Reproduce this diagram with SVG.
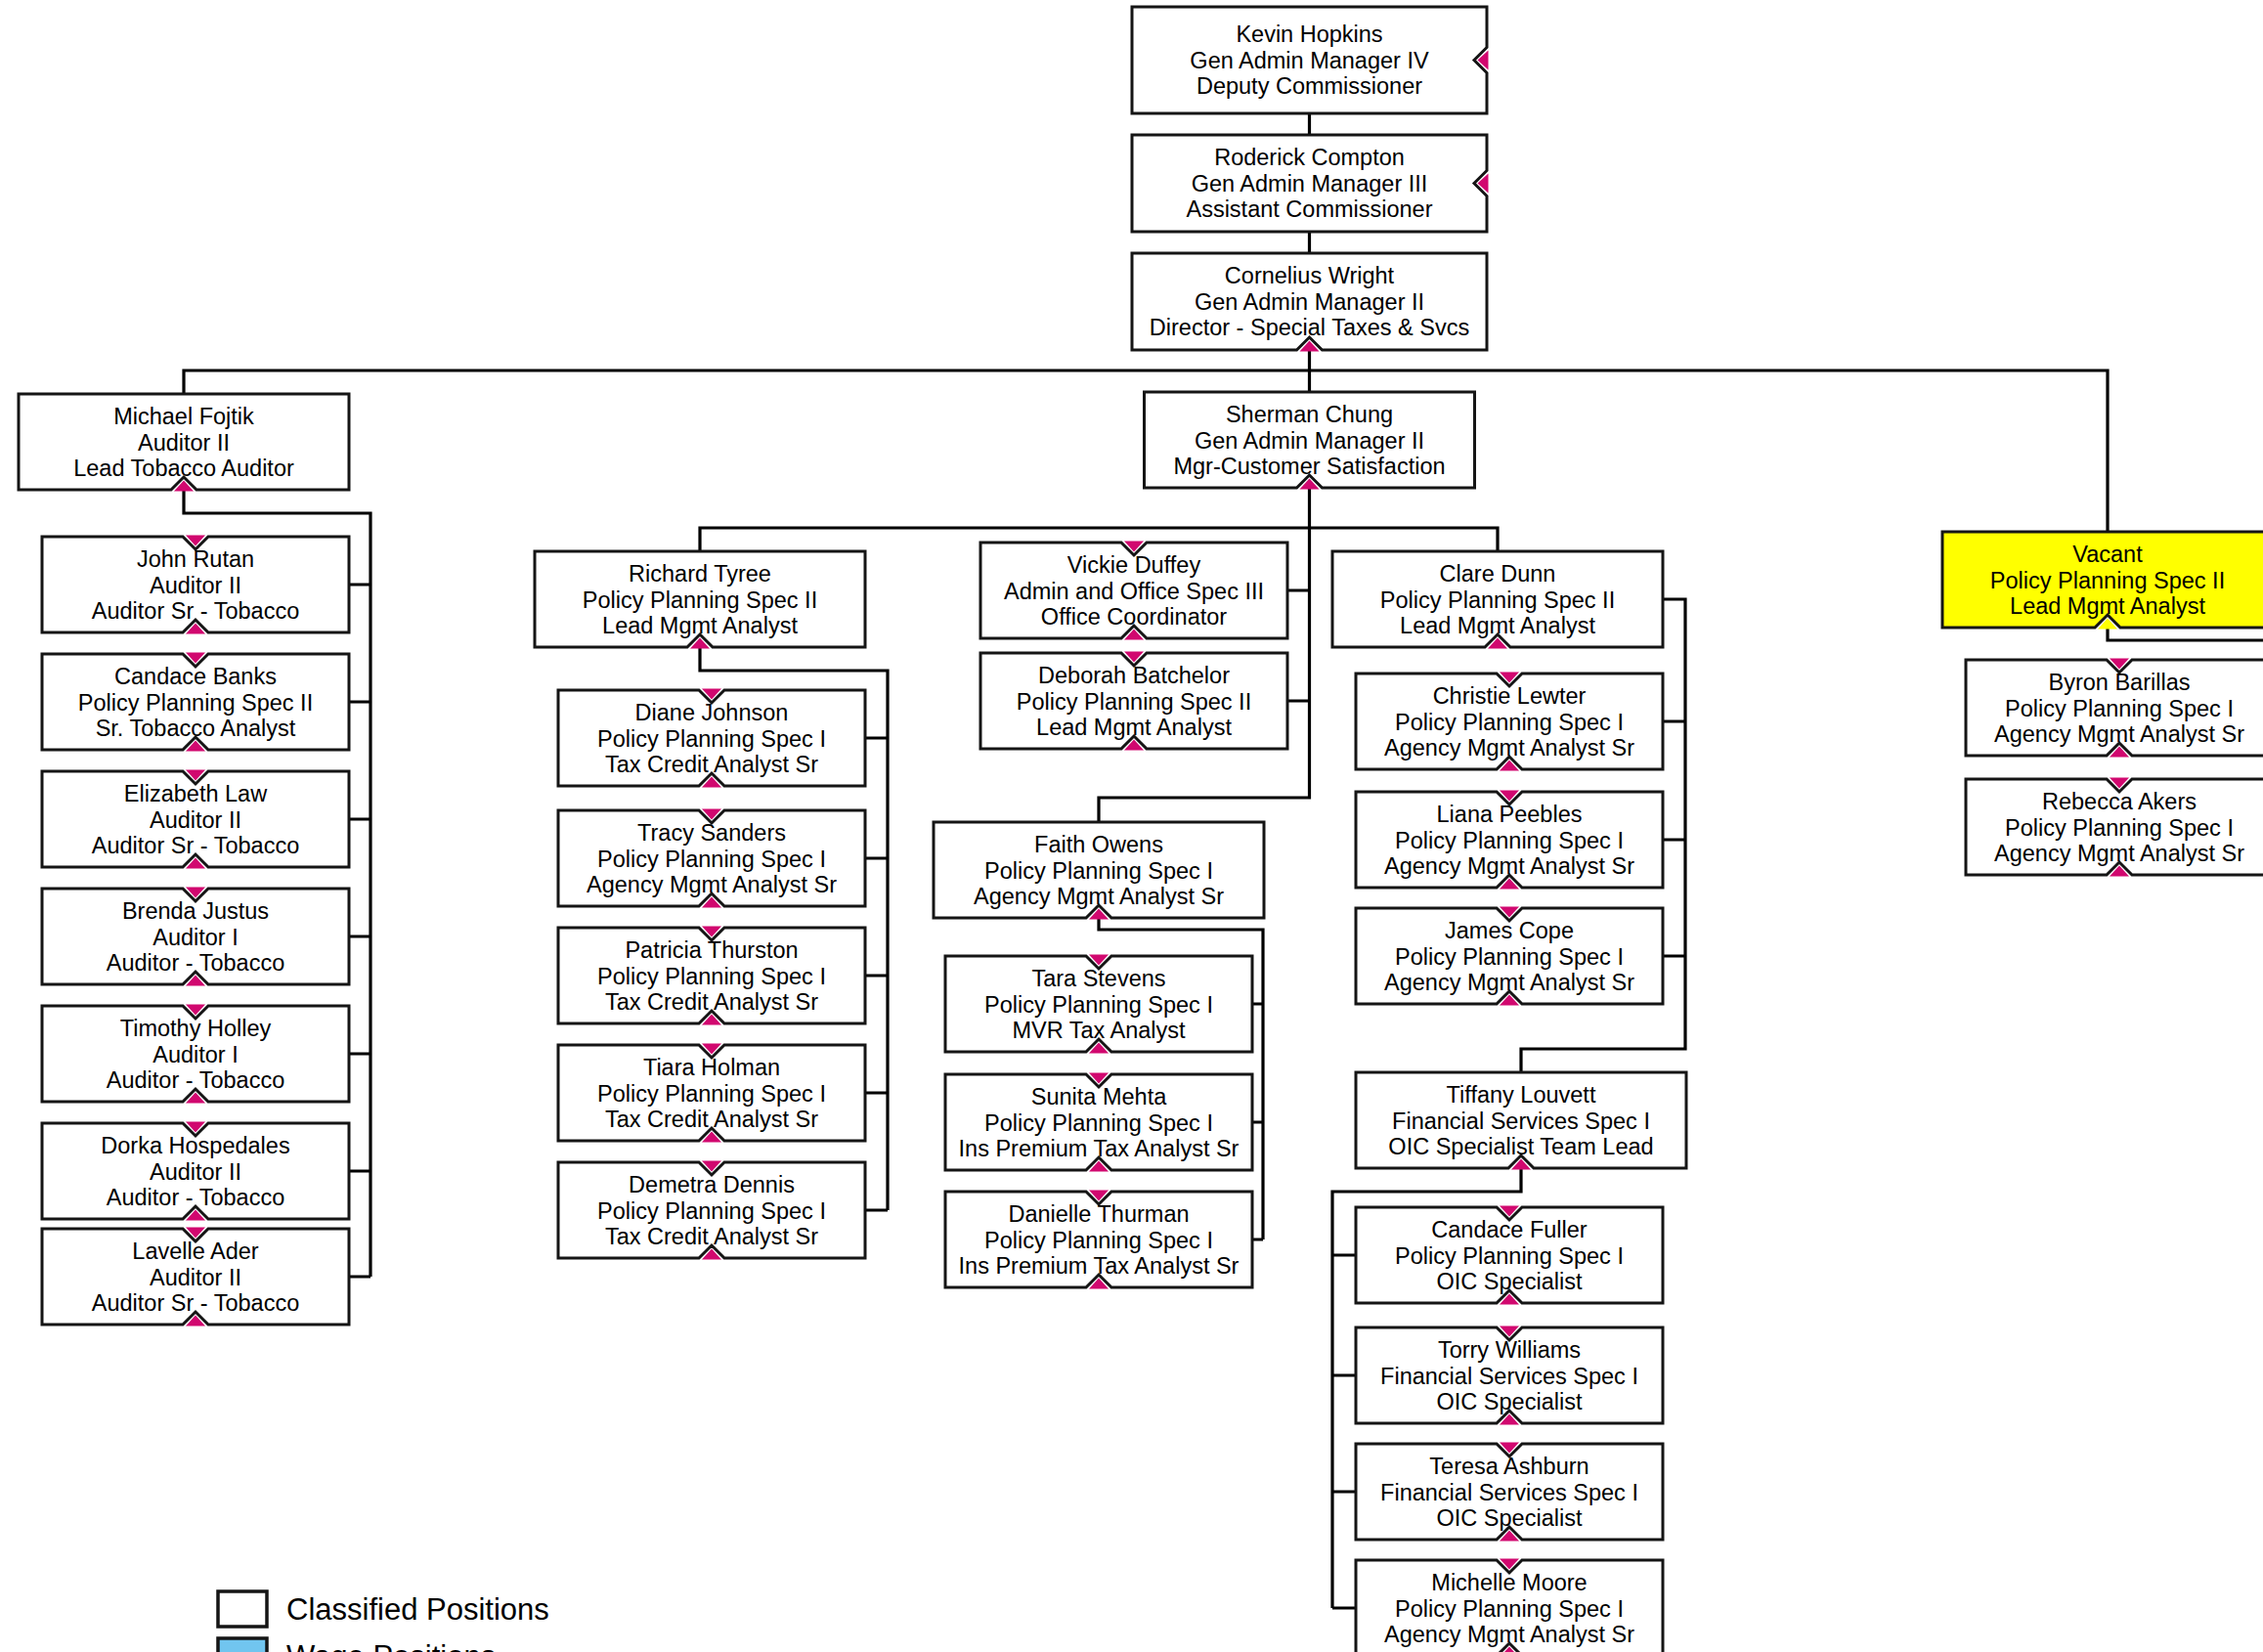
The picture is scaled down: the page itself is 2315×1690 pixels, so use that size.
<svg xmlns="http://www.w3.org/2000/svg" xmlns:xlink="http://www.w3.org/1999/xlink" width="2315" height="1690" viewBox="0 0 2315 1690">
<style>
.box{fill:#fff;stroke:#151515;stroke-width:3;stroke-linejoin:miter}
.vac{fill:#ffff00;stroke:#151515;stroke-width:3}
.pk{fill:#d1086f}
.yl{fill:#ffff00}
.con{fill:none;stroke:#000;stroke-width:3.2;stroke-linejoin:miter}
text{font-family:"Liberation Sans",Arial,sans-serif;font-size:23.5px;fill:#000;text-anchor:middle}
.leg{font-size:31px;text-anchor:start}
</style>
<defs>
<g id="child">
<polygon class="pk" points="147,-1.5 157,9.5 167,-1.5"/>
<polygon class="pk" points="147,99.5 157,88.5 167,99.5"/>
<path class="box" d="M0,0 H144 L157,13 L170,0 H314 V98 H170 L157,85 L144,98 H0 Z"/>
</g>
<g id="lead">
<polygon class="pk" points="159,99.5 169,88.5 179,99.5"/>
<path class="box" d="M0,0 H338 V98 H182 L169,85 L156,98 H0 Z"/>
</g>
<g id="leadv">
<polygon class="yl" points="159,99.5 169,88.5 179,99.5"/>
<path class="vac" d="M0,0 H338 V98 H182 L169,85 L156,98 H0 Z"/>
</g>
</defs>
<rect width="2315" height="1690" fill="#fff"/>

<g id="connectors">
<path class="con" d="M1339.5,116 V138 M1339.5,237 V259 M1339.5,358 V401 M1339.5,499 V816 H1124 V841"/>
<path class="con" d="M188,403 V379 H2156 V544"/>
<path class="con" d="M188,501 V525 H379 V1306 M357,598 H379 M357,718 H379 M357,838 H379 M357,958 H379 M357,1078 H379 M357,1198 H379 M357,1306 H379"/>
<path class="con" d="M716,564 V540 H1532 V564 M1317,604 H1339.5 M1317,717 H1339.5"/>
<path class="con" d="M716,662 V686 H908 V1238 M885,755 H908 M885,878 H908 M885,998 H908 M885,1118 H908 M885,1238 H908"/>
<path class="con" d="M1124,939 V951 H1292 V1268 M1281,1027 H1292 M1281,1148 H1292 M1281,1268 H1292"/>
<path class="con" d="M1701,613 H1724 V1073 H1556 V1097 M1701,738 H1724 M1701,859 H1724 M1701,978 H1724"/>
<path class="con" d="M1556,1195 V1219 H1363 V1645 M1363,1284 H1387 M1363,1407 H1387 M1363,1526 H1387 M1363,1645 H1387"/>
<path class="con" d="M2156,643 V655 H2320"/>
</g>

<g id="n-kevin">
<polygon class="pk" points="1522.5,51.5 1511.5,61.5 1522.5,71.5"/>
<path class="box" d="M1158,7 H1521 V48.5 L1508,61.5 L1521,74.5 V116 H1158 Z"/>
<text x="1339.5" y="43">Kevin Hopkins</text>
<text x="1339.5" y="69.5">Gen Admin Manager IV</text>
<text x="1339.5" y="96">Deputy Commissioner</text>
</g>
<g id="n-roderick">
<polygon class="pk" points="1522.5,177.5 1511.5,187.5 1522.5,197.5"/>
<path class="box" d="M1158,138 H1521 V174.5 L1508,187.5 L1521,200.5 V237 H1158 Z"/>
<text x="1339.5" y="169">Roderick Compton</text>
<text x="1339.5" y="195.5">Gen Admin Manager III</text>
<text x="1339.5" y="222">Assistant Commissioner</text>
</g>
<g id="n-cornelius">
<polygon class="pk" points="1329.5,359.5 1339.5,348.5 1349.5,359.5"/>
<path class="box" d="M1158,259 H1521 V358 H1352.5 L1339.5,345 L1326.5,358 H1158 Z"/>
<text x="1339.5" y="290">Cornelius Wright</text>
<text x="1339.5" y="316.5">Gen Admin Manager II</text>
<text x="1339.5" y="343">Director - Special Taxes &amp; Svcs</text>
</g>

<g id="n-fojtik" transform="translate(19,403)"><use href="#lead"/><text x="169" y="31">Michael Fojtik</text><text x="169" y="57.5">Auditor II</text><text x="169" y="84">Lead Tobacco Auditor</text></g>
<g id="n-sherman" transform="translate(1170.5,401)"><use href="#lead"/><text x="169" y="31">Sherman Chung</text><text x="169" y="57.5">Gen Admin Manager II</text><text x="169" y="84">Mgr-Customer Satisfaction</text></g>
<g id="n-vacant" transform="translate(1987,544)"><use href="#leadv"/><text x="169" y="31">Vacant</text><text x="169" y="57.5">Policy Planning Spec II</text><text x="169" y="84">Lead Mgmt Analyst</text></g>
<g id="n-richard" transform="translate(547,564)"><use href="#lead"/><text x="169" y="31">Richard Tyree</text><text x="169" y="57.5">Policy Planning Spec II</text><text x="169" y="84">Lead Mgmt Analyst</text></g>
<g id="n-clare" transform="translate(1363,564)"><use href="#lead"/><text x="169" y="31">Clare Dunn</text><text x="169" y="57.5">Policy Planning Spec II</text><text x="169" y="84">Lead Mgmt Analyst</text></g>
<g id="n-faith" transform="translate(955,841)"><use href="#lead"/><text x="169" y="31">Faith Owens</text><text x="169" y="57.5">Policy Planning Spec I</text><text x="169" y="84">Agency Mgmt Analyst Sr</text></g>
<g id="n-tiffany" transform="translate(1387,1097)"><use href="#lead"/><text x="169" y="31">Tiffany Louvett</text><text x="169" y="57.5">Financial Services Spec I</text><text x="169" y="84">OIC Specialist Team Lead</text></g>

<g id="n-rutan" transform="translate(43,549)"><use href="#child"/><text x="157" y="31">John Rutan</text><text x="157" y="57.5">Auditor II</text><text x="157" y="84">Auditor Sr - Tobacco</text></g>
<g id="n-banks" transform="translate(43,669)"><use href="#child"/><text x="157" y="31">Candace Banks</text><text x="157" y="57.5">Policy Planning Spec II</text><text x="157" y="84">Sr. Tobacco Analyst</text></g>
<g id="n-law" transform="translate(43,789)"><use href="#child"/><text x="157" y="31">Elizabeth Law</text><text x="157" y="57.5">Auditor II</text><text x="157" y="84">Auditor Sr - Tobacco</text></g>
<g id="n-justus" transform="translate(43,909)"><use href="#child"/><text x="157" y="31">Brenda Justus</text><text x="157" y="57.5">Auditor I</text><text x="157" y="84">Auditor - Tobacco</text></g>
<g id="n-holley" transform="translate(43,1029)"><use href="#child"/><text x="157" y="31">Timothy Holley</text><text x="157" y="57.5">Auditor I</text><text x="157" y="84">Auditor - Tobacco</text></g>
<g id="n-hospedales" transform="translate(43,1149)"><use href="#child"/><text x="157" y="31">Dorka Hospedales</text><text x="157" y="57.5">Auditor II</text><text x="157" y="84">Auditor - Tobacco</text></g>
<g id="n-ader" transform="translate(43,1257)"><use href="#child"/><text x="157" y="31">Lavelle Ader</text><text x="157" y="57.5">Auditor II</text><text x="157" y="84">Auditor Sr - Tobacco</text></g>

<g id="n-johnson" transform="translate(571,706)"><use href="#child"/><text x="157" y="31">Diane Johnson</text><text x="157" y="57.5">Policy Planning Spec I</text><text x="157" y="84">Tax Credit Analyst Sr</text></g>
<g id="n-sanders" transform="translate(571,829)"><use href="#child"/><text x="157" y="31">Tracy Sanders</text><text x="157" y="57.5">Policy Planning Spec I</text><text x="157" y="84">Agency Mgmt Analyst Sr</text></g>
<g id="n-thurston" transform="translate(571,949)"><use href="#child"/><text x="157" y="31">Patricia Thurston</text><text x="157" y="57.5">Policy Planning Spec I</text><text x="157" y="84">Tax Credit Analyst Sr</text></g>
<g id="n-holman" transform="translate(571,1069)"><use href="#child"/><text x="157" y="31">Tiara Holman</text><text x="157" y="57.5">Policy Planning Spec I</text><text x="157" y="84">Tax Credit Analyst Sr</text></g>
<g id="n-dennis" transform="translate(571,1189)"><use href="#child"/><text x="157" y="31">Demetra Dennis</text><text x="157" y="57.5">Policy Planning Spec I</text><text x="157" y="84">Tax Credit Analyst Sr</text></g>

<g id="n-duffey" transform="translate(1003,555)"><use href="#child"/><text x="157" y="31">Vickie Duffey</text><text x="157" y="57.5">Admin and Office Spec III</text><text x="157" y="84">Office Coordinator</text></g>
<g id="n-batchelor" transform="translate(1003,668)"><use href="#child"/><text x="157" y="31">Deborah Batchelor</text><text x="157" y="57.5">Policy Planning Spec II</text><text x="157" y="84">Lead Mgmt Analyst</text></g>

<g id="n-stevens" transform="translate(967,978)"><use href="#child"/><text x="157" y="31">Tara Stevens</text><text x="157" y="57.5">Policy Planning Spec I</text><text x="157" y="84">MVR Tax Analyst</text></g>
<g id="n-mehta" transform="translate(967,1099)"><use href="#child"/><text x="157" y="31">Sunita Mehta</text><text x="157" y="57.5">Policy Planning Spec I</text><text x="157" y="84">Ins Premium Tax Analyst Sr</text></g>
<g id="n-thurman" transform="translate(967,1219)"><use href="#child"/><text x="157" y="31">Danielle Thurman</text><text x="157" y="57.5">Policy Planning Spec I</text><text x="157" y="84">Ins Premium Tax Analyst Sr</text></g>

<g id="n-lewter" transform="translate(1387,689)"><use href="#child"/><text x="157" y="31">Christie Lewter</text><text x="157" y="57.5">Policy Planning Spec I</text><text x="157" y="84">Agency Mgmt Analyst Sr</text></g>
<g id="n-peebles" transform="translate(1387,810)"><use href="#child"/><text x="157" y="31">Liana Peebles</text><text x="157" y="57.5">Policy Planning Spec I</text><text x="157" y="84">Agency Mgmt Analyst Sr</text></g>
<g id="n-cope" transform="translate(1387,929)"><use href="#child"/><text x="157" y="31">James Cope</text><text x="157" y="57.5">Policy Planning Spec I</text><text x="157" y="84">Agency Mgmt Analyst Sr</text></g>

<g id="n-fuller" transform="translate(1387,1235)"><use href="#child"/><text x="157" y="31">Candace Fuller</text><text x="157" y="57.5">Policy Planning Spec I</text><text x="157" y="84">OIC Specialist</text></g>
<g id="n-williams" transform="translate(1387,1358)"><use href="#child"/><text x="157" y="31">Torry Williams</text><text x="157" y="57.5">Financial Services Spec I</text><text x="157" y="84">OIC Specialist</text></g>
<g id="n-ashburn" transform="translate(1387,1477)"><use href="#child"/><text x="157" y="31">Teresa Ashburn</text><text x="157" y="57.5">Financial Services Spec I</text><text x="157" y="84">OIC Specialist</text></g>
<g id="n-moore" transform="translate(1387,1596)"><use href="#child"/><text x="157" y="31">Michelle Moore</text><text x="157" y="57.5">Policy Planning Spec I</text><text x="157" y="84">Agency Mgmt Analyst Sr</text></g>

<g id="n-barillas" transform="translate(2011,675)"><use href="#child"/><text x="157" y="31">Byron Barillas</text><text x="157" y="57.5">Policy Planning Spec I</text><text x="157" y="84">Agency Mgmt Analyst Sr</text></g>
<g id="n-akers" transform="translate(2011,797)"><use href="#child"/><text x="157" y="31">Rebecca Akers</text><text x="157" y="57.5">Policy Planning Spec I</text><text x="157" y="84">Agency Mgmt Analyst Sr</text></g>

<g id="legend">
<rect x="223" y="1628" width="50" height="36" fill="#fff" stroke="#151515" stroke-width="3.5"/>
<text class="leg" x="293" y="1657">Classified Positions</text>
<rect x="223" y="1676" width="50" height="40" fill="#71c5ef" stroke="#151515" stroke-width="3.5"/>
<text class="leg" x="293" y="1705">Wage Positions</text>
</g>
</svg>
